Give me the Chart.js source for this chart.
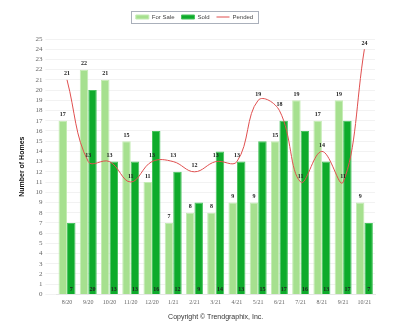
<!DOCTYPE html>
<html>
<head>
<meta charset="utf-8">
<script src="https://cdn.jsdelivr.net/npm/chart.js@4/dist/chart.umd.min.js"></script>
<style>
  body { margin: 0; background: #fff; }
  #wrap { width: 400px; height: 333px; }
</style>
</head>
<body>
<div id="wrap"><canvas id="chart"></canvas></div>
<script>
const months = ['8/20', '9/20', '10/20', '11/20', '12/20', '1/21', '2/21', '3/21', '4/21', '5/21', '6/21', '7/21', '8/21', '9/21', '10/21'];
const forSale = [17, 22, 21, 15, 11, 7, 8, 8, 9, 9, 15, 19, 17, 19, 9];
const sold = [7, 20, 13, 13, 16, 12, 9, 14, 13, 15, 17, 16, 13, 17, 7];
const pended = [21, 13, 13, 11, 13, 13, 12, 13, 13, 19, 18, 11, 14, 11, 24];
const yTicks = [0, 1, 2, 3, 4, 5, 6, 7, 8, 9, 10, 11, 12, 13, 14, 15, 16, 17, 18, 19, 20, 21, 22, 23, 24, 25];

// valeurs sur les barres et la courbe
const valueLabels = {
  id: 'valueLabels',
  afterDatasetsDraw(chart) {
    const ctx = chart.ctx;
    const yScale = chart.scales.y;
    ctx.save();
    ctx.font = 'bold 6px "Liberation Serif"';
    ctx.fillStyle = '#222';
    ctx.textAlign = 'center';
    ctx.textBaseline = 'bottom';
    chart.data.datasets.forEach((ds, i) => {
      const meta = chart.getDatasetMeta(i);
      meta.data.forEach((el, j) => {
        const v = ds.data[j];
        if (ds.label === 'Sold') {
          ctx.fillText(v, el.x, yScale.getPixelForValue(0) - 2);
        } else {
          ctx.fillText(v, el.x, el.y - 3);
        }
      });
    });
    ctx.restore();
  }
};

// cadre autour de la légende + espace sous la légende
const legendFrame = {
  id: 'legendFrame',
  afterInit(chart) {
    const fit = chart.legend.fit;
    chart.legend.fit = function () {
      fit.call(this);
      this.height += 9;
    };
  },
  afterDraw(chart) {
    const boxes = chart.legend.legendHitBoxes;
    if (!boxes || !boxes.length) return;
    const left = Math.min(...boxes.map(b => b.left)) - 5;
    const right = Math.max(...boxes.map(b => b.left + b.width)) + 5;
    const top = Math.min(...boxes.map(b => b.top)) - 3;
    const bottom = Math.max(...boxes.map(b => b.top + b.height)) + 3;
    const ctx = chart.ctx;
    ctx.save();
    ctx.strokeStyle = '#aab0bb';
    ctx.lineWidth = 1;
    ctx.strokeRect(Math.round(left) + 0.5, Math.round(top) + 0.5, Math.round(right - left), Math.round(bottom - top));
    ctx.restore();
  }
};

const ctx = document.getElementById('chart').getContext('2d');

new Chart(ctx, {
  data: {
    labels: months,
    datasets: [
      {
        type: 'bar',
        label: 'For Sale',
        data: forSale,
        backgroundColor: '#a6e08f',
        borderColor: '#c4ecb4',
        borderWidth: 1,
        pointStyle: 'rect',
        order: 1
      },
      {
        type: 'bar',
        label: 'Sold',
        data: sold,
        backgroundColor: '#0eab2b',
        borderColor: '#49c35f',
        borderWidth: 1,
        pointStyle: 'rect',
        order: 1
      },
      {
        type: 'line',
        label: 'Pended',
        data: pended,
        borderColor: '#e04f4f',
        backgroundColor: '#e04f4f',
        borderWidth: 1,
        tension: 0.4,
        pointRadius: 0,
        pointStyle: 'line',
        order: 0
      }
    ]
  },
  options: {
    responsive: true,
    maintainAspectRatio: false,
    animation: false,
    layout: { padding: { top: 7, right: 25, bottom: 8, left: 14 } },
    plugins: {
      legend: {
        position: 'top',
        labels: {
          usePointStyle: true,
          pointStyleWidth: 13,
          boxHeight: 4,
          padding: 7,
          color: '#444',
          font: { size: 6, family: '"Liberation Sans"' },
          sort: (a, b) => a.datasetIndex - b.datasetIndex
        }
      },
      tooltip: { enabled: false }
    },
    datasets: {
      bar: { categoryPercentage: 0.8, barPercentage: 1.0 }
    },
    scales: {
      x: {
        grid: { display: false, drawTicks: false, tickLength: 0 },
        border: { color: '#e6e6e6' },
        ticks: { color: '#666', font: { size: 6, family: '"Liberation Serif"' }, padding: 4, maxRotation: 0 },
        title: {
          display: true,
          text: 'Copyright © Trendgraphix, Inc.',
          color: '#333',
          font: { size: 7, family: '"Liberation Sans"' },
          padding: { top: 3 }
        }
      },
      y: {
        min: 0,
        max: 25,
        afterBuildTicks(axis) { axis.ticks = yTicks.map(v => ({ value: v })); },
        grid: { color: '#f2f2f2', tickLength: 11 },
        border: { display: false },
        ticks: { color: '#666', font: { size: 7, family: '"Liberation Serif"' }, padding: 3, autoSkip: false },
        title: {
          display: true,
          text: 'Number of Homes',
          color: '#111',
          font: { size: 7, weight: 'bold', family: '"Liberation Sans"' },
          padding: { bottom: 6 }
        }
      }
    }
  },
  plugins: [valueLabels, legendFrame]
});
</script>
</body>
</html>
